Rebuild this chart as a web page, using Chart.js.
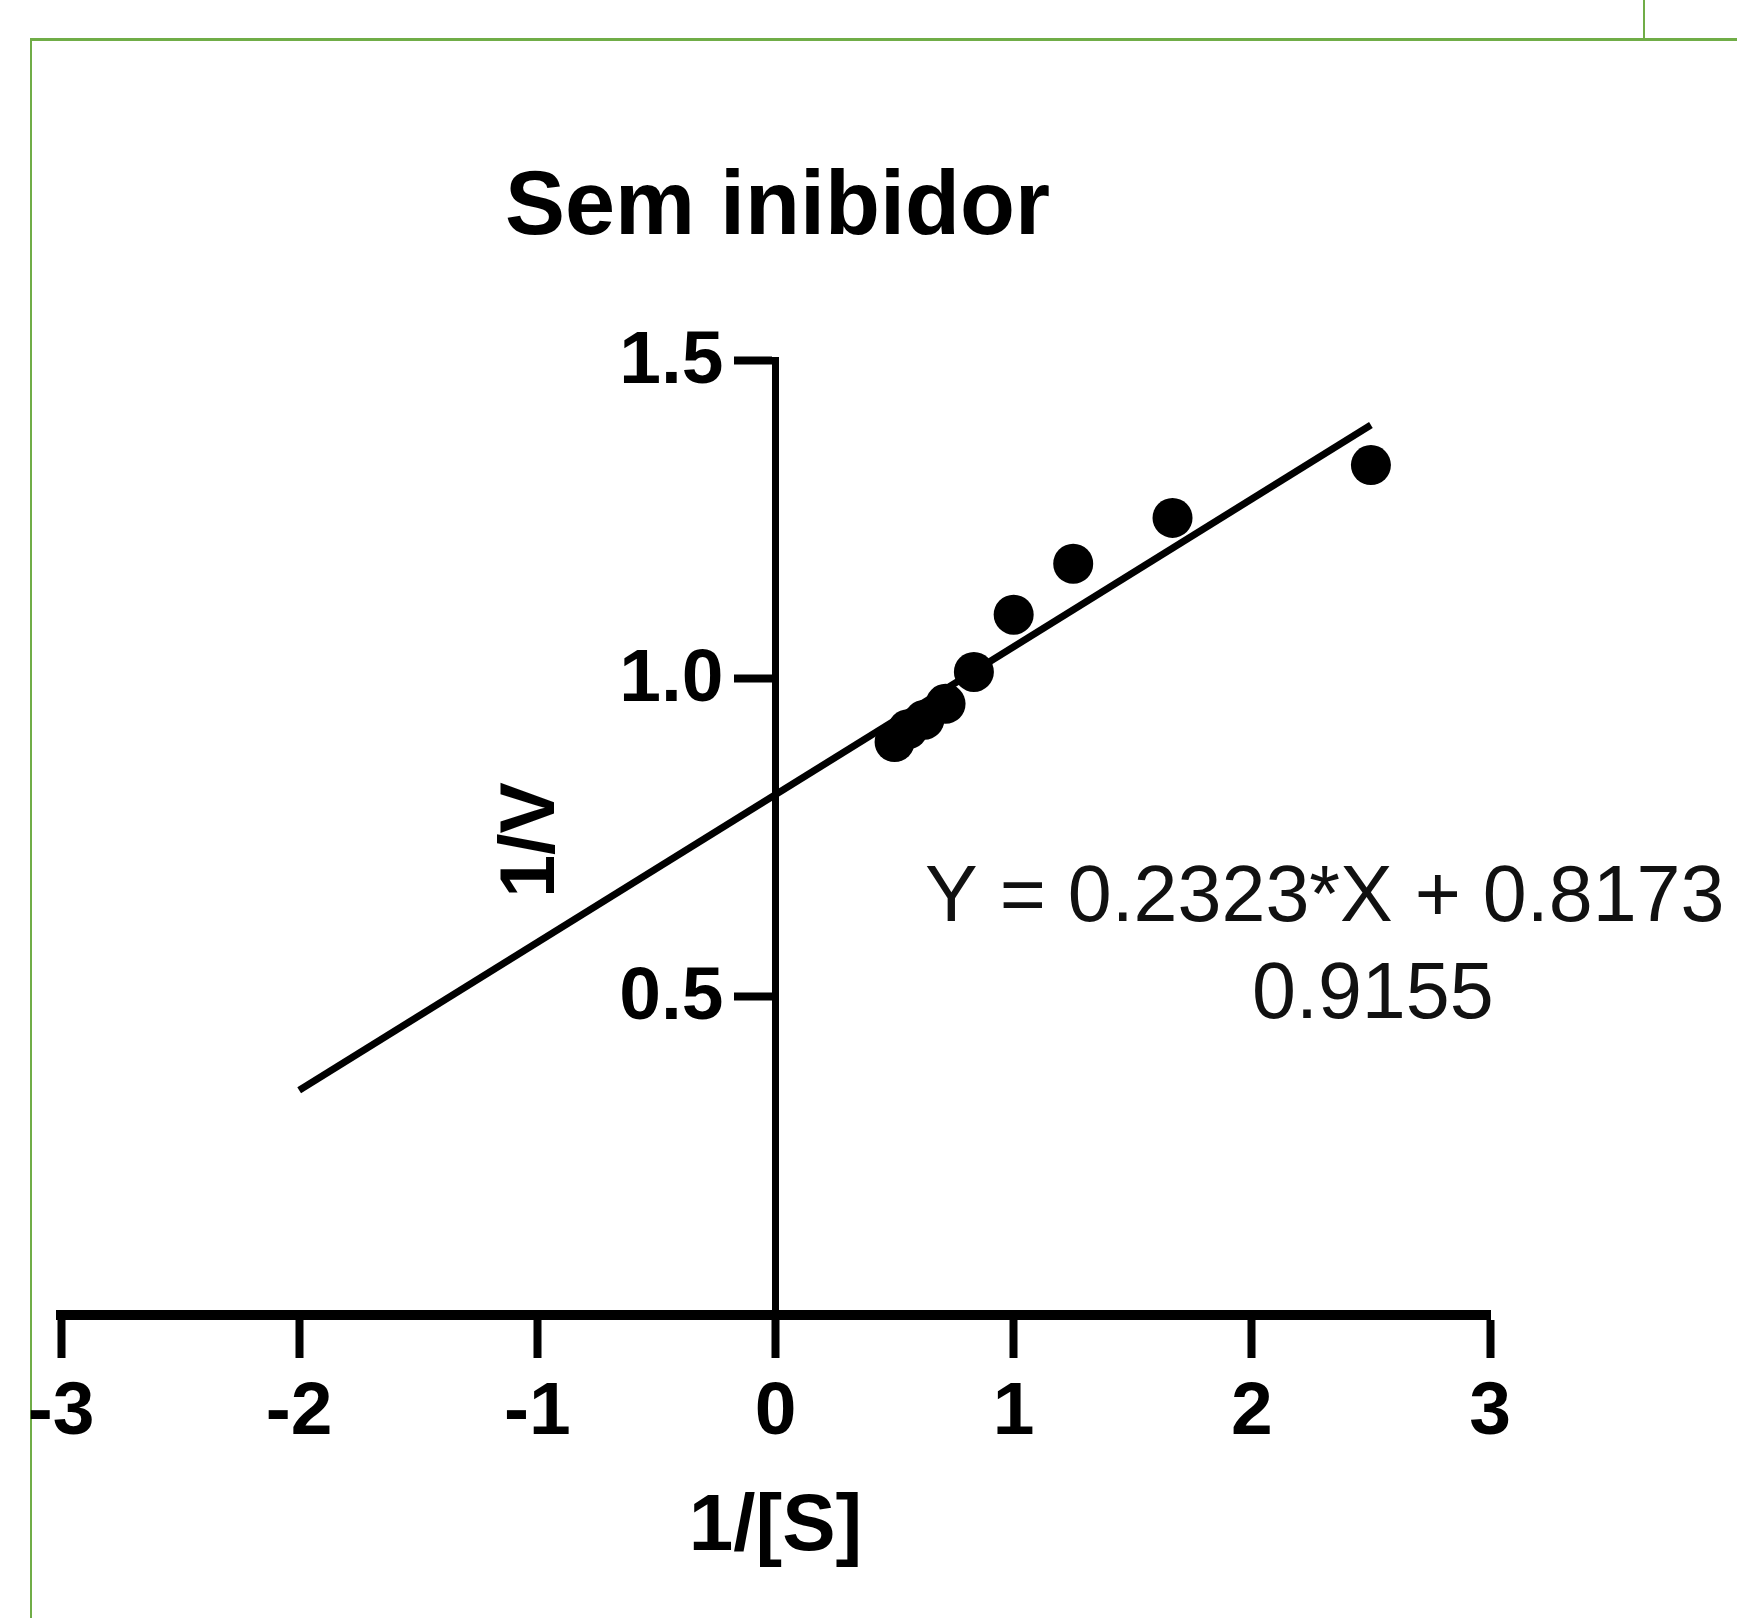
<!DOCTYPE html>
<html>
<head>
<meta charset="utf-8">
<title>Sem inibidor</title>
<script src="https://cdn.jsdelivr.net/npm/chart.js@4.4.1/dist/chart.umd.min.js"></script>
<style>
  html, body { margin: 0; padding: 0; background: #fff; }
  #wrap { position: relative; width: 1737px; height: 1618px; overflow: hidden; background: #fff; }
  .frame { position: absolute; background: #70ad47; }
  #chart { position: absolute; left: 0; top: 0; }
</style>
</head>
<body>
<div id="wrap">
  <div class="frame" style="left:30px; top:38px; width:1707px; height:3px;"></div>
  <div class="frame" style="left:30px; top:38px; width:2px; height:1580px;"></div>
  <div class="frame" style="left:1643px; top:0; width:2px; height:40px;"></div>
  <canvas id="chart" width="1737" height="1618"></canvas>
</div>
<script>
// Lineweaver-Burk plot, no inhibitor
const chartTitle = 'Sem inibidor';
const xTitle = '1/[S]';
const yTitle = '1/V';

// measured points (1/[S], 1/V)
const invS = [0.5, 0.556, 0.625, 0.714, 0.833, 1.0, 1.25, 1.667, 2.5];
const invV = [0.90, 0.92, 0.935, 0.96, 1.01, 1.10, 1.18, 1.252, 1.335];

// linear fit, drawn from -2 to 2.5
const fitX = [-2, 2.5];
const fitY = [0.353, 1.398];

const xTicks = [-3, -2, -1, 0, 1, 2, 3];
const yTicks = [0.5, 1.0, 1.5];

const eqText = 'Y = 0.2323*X + 0.8173';
const r2Text = '0.9155';

const FONT = '"Liberation Sans", Arial, sans-serif';

const textPlugin = {
    id: 'labels',
    afterDraw(chart) {
        const ctx = chart.ctx;
        const xs = chart.scales.x;
        const ys = chart.scales.y;
        const x0 = xs.getPixelForValue(0);
        ctx.save();
        ctx.fillStyle = '#000';

        // y tick labels, left of the ticks on the centred axis
        ctx.font = 'bold 75px ' + FONT;
        ctx.textAlign = 'right';
        ctx.textBaseline = 'middle';
        ys.ticks.forEach(t => {
            ctx.fillText(t.value.toFixed(1), x0 - 52, ys.getPixelForValue(t.value) + 2);
        });

        ctx.textBaseline = 'alphabetic';

        // title
        ctx.font = 'bold 90px ' + FONT;
        ctx.textAlign = 'center';
        ctx.fillText(chartTitle, x0 + 2, 234);

        // x axis title
        ctx.font = 'bold 80px ' + FONT;
        ctx.fillText(xTitle, x0, 1550);

        // y axis title (rotated)
        ctx.save();
        ctx.font = 'bold 77px ' + FONT;
        ctx.translate(554, 840);
        ctx.rotate(-Math.PI / 2);
        ctx.fillText(yTitle, 0, 0);
        ctx.restore();

        // equation and r2
        ctx.font = '79px ' + FONT;
        ctx.fillStyle = '#111';
        ctx.textAlign = 'left';
        ctx.fillText(eqText, 925, 921);
        ctx.fillText(r2Text, 1252, 1018);
        ctx.restore();
    }
};

const ctx = document.getElementById('chart').getContext('2d');

new Chart(ctx, {
    type: 'scatter',
    data: {
        datasets: [
            {
                type: 'line',
                label: 'fit',
                data: fitX.map((x, i) => ({x: x, y: fitY[i]})),
                borderColor: '#000',
                borderWidth: 7,
                pointRadius: 0,
                fill: false,
                tension: 0
            },
            {
                label: '1/V',
                data: invS.map((x, i) => ({x: x, y: invV[i]})),
                backgroundColor: '#000',
                borderWidth: 0,
                pointRadius: 20,
                pointHoverRadius: 20
            }
        ]
    },
    options: {
        responsive: false,
        animation: false,
        layout: {
            padding: {left: 61, right: 247, top: 360, bottom: 0}
        },
        plugins: {
            legend: {display: false},
            tooltip: {enabled: false},
            title: {display: false}
        },
        scales: {
            x: {
                type: 'linear',
                position: 'bottom',
                min: -3,
                max: 3,
                afterBuildTicks: (scale) => {
                    scale.ticks = xTicks.map(v => ({value: v}));
                },
                afterFit: (scale) => {
                    scale.height = 303;
                },
                border: {display: true, color: '#000', width: 10},
                grid: {
                    drawOnChartArea: false,
                    drawTicks: true,
                    tickLength: 43,
                    tickWidth: 8,
                    tickColor: '#000'
                },
                ticks: {
                    color: '#000',
                    padding: 10,
                    maxRotation: 0,
                    font: {family: FONT, size: 75, weight: 'bold'}
                }
            },
            y: {
                type: 'linear',
                position: {x: 0},
                min: 0,
                max: 1.5,
                afterBuildTicks: (scale) => {
                    scale.ticks = yTicks.map(v => ({value: v}));
                },
                border: {display: true, color: '#000', width: 7},
                grid: {
                    drawOnChartArea: false,
                    drawTicks: true,
                    tickLength: 38,
                    tickWidth: 8,
                    tickColor: '#000'
                },
                ticks: {
                    display: false
                }
            }
        }
    },
    plugins: [textPlugin]
});
</script>
</body>
</html>
